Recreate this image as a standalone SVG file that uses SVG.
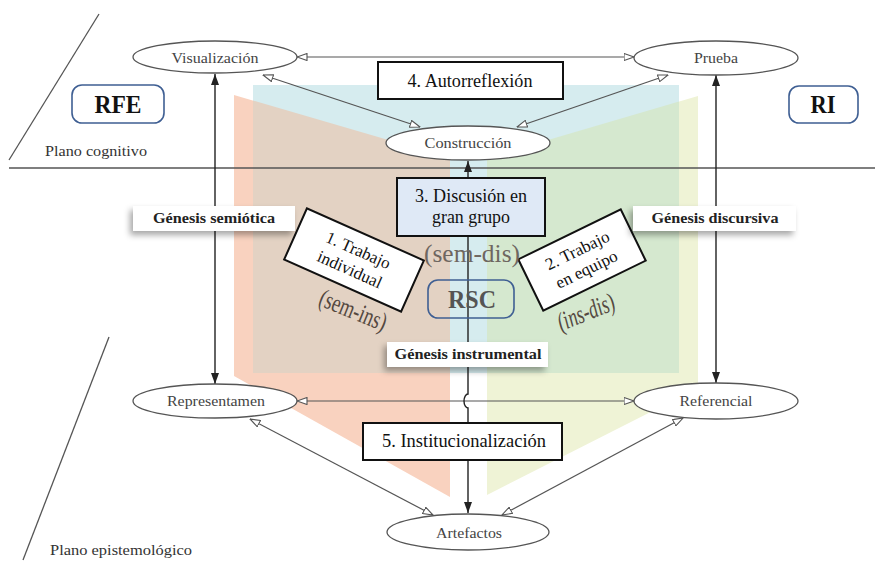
<svg xmlns="http://www.w3.org/2000/svg" width="875" height="562" viewBox="0 0 875 562">
<style>
text{font-family:"Liberation Serif","DejaVu Serif",serif}
.ell{fill:#fff;stroke:#555;stroke-width:1.3}
.et{font-size:15px;fill:#444;text-anchor:middle}
.box{fill:#fff;stroke:#111;stroke-width:2}
.bt{font-size:18px;fill:#111;text-anchor:middle}
.gen{fill:#fff;stroke:none;filter:url(#sh)}
.gt{font-size:15px;font-weight:bold;fill:#222;text-anchor:middle}
.rbox{fill:none;stroke:#3f5f93;stroke-width:1.6}
.rt{font-size:26px;font-weight:bold;text-anchor:middle}
.pl{font-size:15px;fill:#333}
.sep{stroke:#555;stroke-width:1.3;fill:none}
.open{stroke:#555;stroke-width:1.2;fill:none;marker-start:url(#oa);marker-end:url(#oa)}
.fill{stroke:#222;stroke-width:1.4;fill:none;marker-start:url(#fa);marker-end:url(#fa)}
.pt{fill:#54483f}
</style>
<defs>
<marker id="oa" viewBox="0 0 11 8" refX="10.5" refY="4" markerWidth="11" markerHeight="8" markerUnits="userSpaceOnUse" orient="auto-start-reverse">
<path d="M0.5,0.5 L10.5,4 L0.5,7.5 z" fill="#fff" stroke="#555" stroke-width="1.1"/>
</marker>
<marker id="fa" viewBox="0 0 11 8" refX="11" refY="4" markerWidth="11" markerHeight="8" markerUnits="userSpaceOnUse" orient="auto-start-reverse">
<path d="M0,0 L11,4 L0,8 z" fill="#222"/>
</marker>
<filter id="sh" x="-20%" y="-40%" width="140%" height="200%">
<feDropShadow dx="-3" dy="4" stdDeviation="3" flood-color="#000" flood-opacity="0.35"/>
</filter>
<clipPath id="blueclip"><rect x="253" y="85" width="426" height="288"/></clipPath>
</defs>

<g id="background">
<polygon points="234,95 450,158 450,497 234,376" fill="#f9d2bf"/>
<polygon points="487,158 698,96 698,388 487,495" fill="#eff3d6"/>
<rect x="253" y="85" width="426" height="288" fill="#d6ecef"/>
<g clip-path="url(#blueclip)">
<polygon points="234,95 450,158 450,497 234,376" fill="#e3d2c3"/>
<polygon points="487,158 698,96 698,388 487,495" fill="#d5e8cf"/>
</g>
</g>

<g id="planes">
<line class="sep" x1="9" y1="168" x2="875" y2="168"/>
<line class="sep" x1="99" y1="14" x2="9" y2="160"/>
<line class="sep" x1="109" y1="337" x2="23" y2="560"/>
<text class="pl" x="45" y="156" textLength="102" lengthAdjust="spacingAndGlyphs">Plano cognitivo</text>
<text class="pl" x="50" y="555" textLength="142" lengthAdjust="spacingAndGlyphs">Plano epistemológico</text>
</g>

<g id="connectors">
<line class="open" x1="297" y1="57" x2="634" y2="57"/>
<line class="open" x1="263" y1="75" x2="420" y2="127"/>
<line class="open" x1="668" y1="75" x2="517" y2="127"/>
<line class="open" x1="297" y1="401" x2="634" y2="401"/>
<line class="open" x1="250" y1="419" x2="433" y2="515"/>
<line class="open" x1="683" y1="418" x2="502" y2="515"/>
<line class="fill" x1="215" y1="74" x2="215" y2="384"/>
<line class="fill" x1="716" y1="75" x2="716" y2="383"/>
<path class="fill" d="M468,161 L468,394 A4,7 0 0 0 468,408 L468,513"/>
</g>

<g id="visualizacion">
<ellipse class="ell" cx="215" cy="57" rx="82" ry="16"/>
<text class="et" x="215" y="63" textLength="87" lengthAdjust="spacingAndGlyphs">Visualización</text>
</g>
<g id="prueba">
<ellipse class="ell" cx="716" cy="58" rx="82" ry="17"/>
<text class="et" x="716" y="63" textLength="44" lengthAdjust="spacingAndGlyphs">Prueba</text>
</g>
<g id="construccion">
<ellipse class="ell" cx="468" cy="143" rx="82" ry="17"/>
<text class="et" x="468" y="148" textLength="87" lengthAdjust="spacingAndGlyphs">Construcción</text>
</g>
<g id="representamen">
<ellipse class="ell" cx="215" cy="401" rx="82" ry="17"/>
<text class="et" x="216" y="406" textLength="98" lengthAdjust="spacingAndGlyphs">Representamen</text>
</g>
<g id="referencial">
<ellipse class="ell" cx="716" cy="401" rx="82" ry="18"/>
<text class="et" x="716" y="406" textLength="73" lengthAdjust="spacingAndGlyphs">Referencial</text>
</g>
<g id="artefactos">
<ellipse class="ell" cx="468" cy="532" rx="81" ry="18"/>
<text class="et" x="469" y="538" textLength="66" lengthAdjust="spacingAndGlyphs">Artefactos</text>
</g>

<g id="autorreflexion">
<rect class="box" x="378" y="62" width="185" height="37"/>
<text class="bt" x="470" y="87" textLength="125" lengthAdjust="spacingAndGlyphs">4. Autorreflexión</text>
</g>
<g id="discusion">
<rect class="box" x="397" y="178" width="148" height="58" style="fill:#dfe9f6"/>
<text class="bt" x="471" y="202" textLength="112" lengthAdjust="spacingAndGlyphs">3. Discusión en</text>
<text class="bt" x="471" y="223" textLength="78" lengthAdjust="spacingAndGlyphs">gran grupo</text>
</g>
<g id="institucionalizacion">
<rect class="box" x="363" y="423" width="199" height="37"/>
<text class="bt" x="464" y="447" textLength="164" lengthAdjust="spacingAndGlyphs">5.  Institucionalización</text>
</g>

<g id="trabajo-individual" transform="translate(354,260) rotate(24)">
<rect class="box" x="-64" y="-28" width="128" height="56"/>
<text class="bt" x="0" y="-5" style="font-size:17px">1. Trabajo</text>
<text class="bt" x="0" y="16" style="font-size:17px">individual</text>
</g>
<g id="trabajo-equipo" transform="translate(582,260) rotate(-26)">
<rect class="box" x="-57" y="-28.5" width="114" height="57"/>
<text class="bt" x="0" y="-5" style="font-size:17px">2. Trabajo</text>
<text class="bt" x="0" y="16" style="font-size:17px">en equipo</text>
</g>

<g id="sem-ins">
<text class="pt" transform="translate(350,318) rotate(22) scale(0.75,1.05)" text-anchor="middle" font-size="25">(sem-ins)</text>
</g>
<g id="ins-dis">
<text class="pt" transform="translate(589,320) rotate(-22) scale(0.72,1.05)" text-anchor="middle" font-size="25" font-style="italic">(ins-dis)</text>
</g>
<g id="sem-dis">
<text class="pt" x="472" y="262" text-anchor="middle" font-size="25" textLength="96" lengthAdjust="spacingAndGlyphs" style="fill:#6e6660">(sem-dis)</text>
</g>

<g id="genesis-semiotica">
<rect class="gen" x="133" y="206" width="162" height="25"/>
<text class="gt" x="214" y="223" textLength="122" lengthAdjust="spacingAndGlyphs">Génesis semiótica</text>
</g>
<g id="genesis-discursiva">
<rect class="gen" x="633" y="206" width="163" height="25"/>
<text class="gt" x="715" y="223" textLength="127" lengthAdjust="spacingAndGlyphs">Génesis discursiva</text>
</g>
<g id="genesis-instrumental">
<rect class="gen" x="387" y="342" width="161" height="25"/>
<text class="gt" x="468" y="359" textLength="147" lengthAdjust="spacingAndGlyphs">Génesis instrumental</text>
</g>

<g id="rfe">
<rect class="rbox" x="72" y="85" width="92" height="38" rx="10"/>
<text class="rt" x="118" y="113" fill="#111" textLength="47" lengthAdjust="spacingAndGlyphs">RFE</text>
</g>
<g id="ri">
<rect class="rbox" x="789" y="86" width="69" height="37" rx="10"/>
<text class="rt" x="823" y="113" fill="#111" textLength="25" lengthAdjust="spacingAndGlyphs">RI</text>
</g>
<g id="rsc">
<rect class="rbox" x="428" y="280" width="86" height="38" rx="10"/>
<text class="rt" x="472" y="308" fill="#555" textLength="48" lengthAdjust="spacingAndGlyphs">RSC</text>
</g>
</svg>
